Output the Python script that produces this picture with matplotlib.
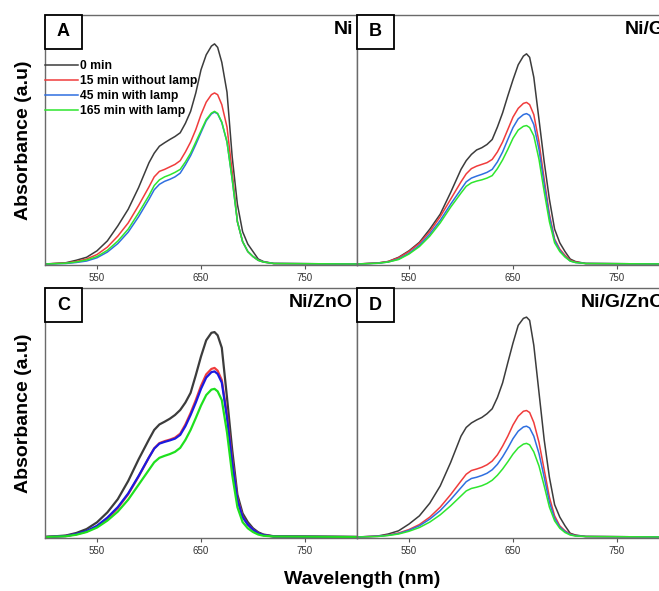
import matplotlib
matplotlib.use("Agg")
import matplotlib.pyplot as plt
from matplotlib.patches import Rectangle

plt.rcParams['font.family'] = ['Liberation Sans', 'DejaVu Sans']

# wavelength grid (nm) shared by every spectrum
wl = [500, 520, 530, 540, 550, 560, 570, 580, 590, 600, 605, 610, 615, 620, 625,
      630, 635, 640, 645, 650, 655, 660, 663, 666, 670, 675, 680, 685, 690, 695,
      700, 705, 710, 720, 800]

series_labels = ['0 min', '15 min without lamp', '45 min with lamp', '165 min with lamp']

# A - Ni
ni_0 = [0, .005, .015, .027, .053, .093, .153, .22, .307, .407, .445, .473, .487, .50, .512,
        .527, .565, .613, .687, .78, .84, .875, .884, .87, .81, .69, .43, .24, .13, .08,
        .05, .02, .01, .002, 0]
ni_15 = [0, .004, .01, .02, .038, .068, .112, .165, .235, .31, .35, .372, .38, .39, .40,
         .415, .45, .49, .54, .60, .65, .68, .687, .68, .64, .55, .37, .17, .09, .05,
         .03, .015, .008, .002, 0]
ni_45 = [0, .002, .006, .012, .025, .048, .082, .128, .19, .26, .298, .32, .332, .34, .35,
         .365, .398, .435, .48, .528, .575, .603, .61, .603, .568, .49, .34, .17, .09, .05,
         .03, .015, .008, .002, 0]
ni_165 = [0, .003, .008, .016, .03, .055, .092, .14, .205, .275, .315, .338, .35, .358, .368,
          .38, .41, .445, .49, .535, .58, .606, .613, .605, .57, .49, .34, .17, .09, .05,
          .03, .015, .008, .002, 0]

# B - Ni/G
nig_0 = [0, .004, .01, .027, .053, .087, .14, .2, .287, .38, .415, .44, .458, .467, .48,
         .5, .55, .607, .675, .74, .8, .835, .844, .83, .75, .58, .41, .26, .14, .085,
         .05, .02, .01, .002, 0]
nig_15 = [0, .004, .01, .025, .05, .083, .13, .19, .26, .33, .362, .383, .393, .40, .407,
          .42, .45, .49, .54, .59, .625, .645, .649, .64, .60, .49, .34, .2, .1, .06,
          .035, .015, .008, .002, 0]
nig_45 = [0, .003, .008, .02, .043, .075, .12, .175, .24, .30, .33, .345, .353, .36, .368,
          .38, .41, .45, .50, .548, .583, .60, .604, .597, .56, .46, .32, .19, .095, .055,
          .03, .012, .006, .002, 0]
nig_165 = [0, .003, .008, .018, .04, .07, .112, .165, .228, .285, .312, .326, .333, .338, .345,
           .355, .383, .418, .46, .505, .538, .553, .556, .548, .515, .42, .29, .17, .085, .05,
           .028, .012, .006, .002, 0]

# C - Ni/ZnO
nizno_0 = [0, .006, .016, .032, .059, .099, .152, .225, .312, .392, .43, .452, .463, .475, .49,
           .51, .54, .579, .65, .725, .79, .82, .823, .81, .76, .56, .35, .17, .095, .06,
           .035, .019, .01, .003, 0]
nizno_15 = [0, .004, .011, .022, .042, .074, .116, .172, .243, .32, .356, .377, .385, .391, .399,
            .415, .452, .498, .55, .607, .653, .675, .679, .668, .63, .49, .31, .155, .082, .05,
            .03, .015, .008, .002, 0]
nizno_45 = [0, .004, .012, .024, .045, .078, .12, .175, .245, .32, .355, .375, .382, .388, .395,
            .41, .445, .49, .54, .595, .64, .662, .665, .655, .62, .48, .30, .15, .08, .05,
            .03, .015, .008, .002, 0]
nizno_165 = [0, .003, .009, .02, .038, .066, .102, .15, .21, .27, .30, .318, .326, .333, .342,
             .358, .39, .43, .478, .528, .57, .592, .595, .585, .55, .42, .25, .12, .06, .035,
             .02, .01, .005, .002, 0]

# D - Ni/G/ZnO
nigzno_0 = [0, .004, .012, .025, .052, .085, .136, .205, .299, .405, .44, .458, .47, .48, .495,
            .515, .56, .619, .70, .779, .85, .878, .883, .87, .77, .58, .39, .24, .13, .08,
            .045, .015, .008, .002, 0]
nigzno_15 = [0, .003, .008, .016, .03, .05, .08, .12, .17, .225, .252, .267, .273, .28, .29,
             .305, .33, .365, .405, .45, .485, .505, .508, .50, .46, .38, .27, .16, .085, .045,
             .025, .012, .006, .002, 0]
nigzno_45 = [0, .003, .007, .014, .027, .045, .072, .106, .15, .198, .222, .235, .24, .247, .256,
             .27, .292, .322, .357, .395, .425, .442, .445, .438, .405, .335, .24, .14, .075, .04,
             .022, .01, .005, .002, 0]
nigzno_165 = [0, .002, .006, .012, .023, .038, .06, .089, .125, .165, .185, .195, .20, .206, .215,
              .228, .248, .273, .302, .333, .358, .373, .376, .37, .342, .285, .205, .12, .065, .035,
              .018, .008, .004, .002, 0]

panel_letters = ['A', 'B', 'C', 'D']
panel_names = ['Ni', 'Ni/G', 'Ni/ZnO', 'Ni/G/ZnO']
panel_data = [(ni_0, ni_15, ni_45, ni_165),
              (nig_0, nig_15, nig_45, nig_165),
              (nizno_0, nizno_15, nizno_45, nizno_165),
              (nigzno_0, nigzno_15, nigzno_45, nigzno_165)]

colors = ['#3c3c3c', '#f03c3c', '#2f6fe0', '#2ee62e']
colors_c = ['#3c3c3c', '#f03c3c', '#1a1ae0', '#1ee01e']

W, H = 659, 591
fig = plt.figure(figsize=(W / 100, H / 100), dpi=100)

# axes boxes in pixels: left, top (B and D run past the right edge, as in the source)
boxes = [(45, 15), (357, 15), (45, 288), (357, 288)]
aw, ah = 312, 250

axes = []
for i, (x0, y0) in enumerate(boxes):
    ax = fig.add_axes([x0 / W, 1 - (y0 + ah) / H, aw / W, ah / H])
    cols = colors_c if i == 2 else colors
    lw = 1.6 if i == 2 else 1.1
    for ys, c, lab in zip(panel_data[i], cols, series_labels):
        ax.plot(wl, ys, color=c, lw=lw, label=lab)
    ax.set_xlim(500, 800)
    ax.set_ylim(-0.004, 1.0)
    ax.set_xticks([550, 650, 750])
    ax.set_yticks([])
    ax.tick_params(axis='x', direction='out', length=3, width=0.8, color='#555555',
                   labelsize=7, labelcolor='#333333', pad=3)
    for s in ax.spines.values():
        s.set_color('#6a6a6a')
        s.set_linewidth(1.0)

    # letter box in the top-left corner
    bw, bh = 37 / aw, 34 / ah
    ax.add_patch(Rectangle((0, 1 - bh), bw, bh, transform=ax.transAxes, fc='white',
                           ec='black', lw=1.3, clip_on=False, zorder=5))
    ax.text(bw / 2, 1 - bh / 2, panel_letters[i], transform=ax.transAxes, ha='center',
            va='center', fontsize=13, fontweight='bold', zorder=6)
    ax.text(1 - 4 / aw, 1 - 6 / ah, panel_names[i], transform=ax.transAxes, ha='right',
            va='top', fontsize=14, fontweight='bold', zorder=6)
    if i in (0, 2):
        ax.set_ylabel('Absorbance (a.u)', fontsize=14, fontweight='bold', labelpad=9)
    axes.append(ax)

leg = axes[0].legend(loc='upper left', bbox_to_anchor=(0, 0.82), frameon=False,
                     borderpad=0, borderaxespad=0, handlelength=2.7, handletextpad=0.2,
                     labelspacing=0.26, prop={'weight': 'bold', 'size': 8.7})

fig.text(362 / W, 1 - 580 / H, 'Wavelength (nm)', ha='center', va='center',
         fontsize=14, fontweight='bold')

fig.savefig('out.png', dpi=100)
